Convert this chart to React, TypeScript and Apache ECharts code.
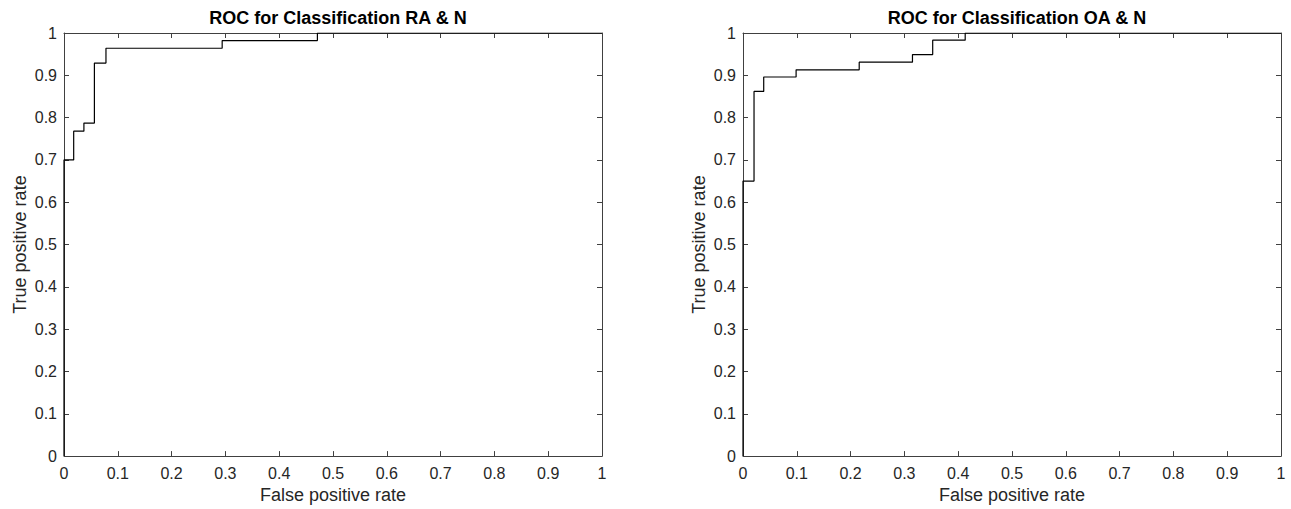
import React, { useEffect, useRef } from "react";
import * as echarts from "echarts";

const titles = ["ROC for Classification RA & N", "ROC for Classification OA & N"];
const xName = "False positive rate";
const yName = "True positive rate";

// ROC vertices (fpr, tpr) for RA & N
const fprRA = [0, 0, 0.018, 0.037, 0.0565, 0.078, 0.294, 0.471, 1];
const tprRA = [0, 0.7, 0.768, 0.787, 0.929, 0.964, 0.982, 1, 1];

// ROC vertices (fpr, tpr) for OA & N
const fprOA = [0, 0, 0.0205, 0.0385, 0.0987, 0.216, 0.315, 0.3526, 0.413, 1];
const tprOA = [0, 0.65, 0.862, 0.896, 0.913, 0.931, 0.949, 0.983, 1, 1];

const curves = [
  { fpr: fprRA, tpr: tprRA },
  { fpr: fprOA, tpr: tprOA },
];

const FONT = "'Liberation Sans', Arial, Helvetica, sans-serif";
const AXIS_COLOR = "#404040";
const TEXT_COLOR = "#262626";

export default function App() {
  const ref = useRef<HTMLDivElement>(null);

  useEffect(() => {
    if (!ref.current) return;
    const chart = echarts.init(ref.current, null, { renderer: "svg" });

    const gridLefts = [64, 743];
    const gridWidth = 538;
    const gridTop = 33;
    const gridHeight = 424;

    const grids = gridLefts.map((l) => ({
      left: l,
      top: gridTop,
      width: gridWidth,
      height: gridHeight,
      containLabel: false,
    }));

    const axisLine = { show: true, onZero: false, lineStyle: { color: AXIS_COLOR, width: 1 } };
    const axisTick = { show: true, inside: true, length: 5, lineStyle: { color: AXIS_COLOR, width: 1 } };
    const fmt = (v: number) => String(Math.round(v * 10) / 10);

    const xAxes: any[] = [];
    const yAxes: any[] = [];
    gridLefts.forEach((_, i) => {
      xAxes.push({
        type: "value",
        gridIndex: i,
        position: "bottom",
        min: 0,
        max: 1,
        interval: 0.1,
        axisLine,
        axisTick,
        splitLine: { show: false },
        axisLabel: { show: true, color: TEXT_COLOR, fontSize: 16, fontFamily: FONT, margin: 9, formatter: fmt },
        name: xName,
        nameLocation: "middle",
        nameGap: 27,
        nameTextStyle: { color: TEXT_COLOR, fontSize: 18, fontFamily: FONT },
      });
      xAxes.push({
        type: "value",
        gridIndex: i,
        position: "top",
        min: 0,
        max: 1,
        interval: 0.1,
        axisLine,
        axisTick,
        splitLine: { show: false },
        axisLabel: { show: false },
      });
      yAxes.push({
        type: "value",
        gridIndex: i,
        position: "left",
        min: 0,
        max: 1,
        interval: 0.1,
        axisLine,
        axisTick,
        splitLine: { show: false },
        axisLabel: { show: true, color: TEXT_COLOR, fontSize: 16, fontFamily: FONT, margin: 7, formatter: fmt },
        name: yName,
        nameLocation: "middle",
        nameGap: 35,
        nameTextStyle: { color: TEXT_COLOR, fontSize: 18, fontFamily: FONT },
      });
      yAxes.push({
        type: "value",
        gridIndex: i,
        position: "right",
        min: 0,
        max: 1,
        interval: 0.1,
        axisLine,
        axisTick,
        splitLine: { show: false },
        axisLabel: { show: false },
      });
    });

    const series = curves.map((c, i) => ({
      type: "line",
      xAxisIndex: i * 2,
      yAxisIndex: i * 2,
      step: "end",
      showSymbol: false,
      symbol: "none",
      lineStyle: { color: "#000000", width: 1.2 },
      data: c.fpr.map((x, k) => [x, c.tpr[k]]),
    }));

    chart.setOption({
      animation: false,
      backgroundColor: "#ffffff",
      title: titles.map((t, i) => ({
        text: t,
        left: gridLefts[i] + gridWidth / 2,
        top: 4,
        textAlign: "center",
        textStyle: { color: "#000000", fontSize: 18, fontWeight: "bold", fontFamily: FONT },
      })),
      grid: grids,
      xAxis: xAxes,
      yAxis: yAxes,
      series,
    });

    return () => chart.dispose();
  }, []);

  return (
    <div
      ref={ref}
      style={{ position: "fixed", left: 0, top: 0, width: 1291, height: 509, background: "#fff" }}
    />
  );
}
